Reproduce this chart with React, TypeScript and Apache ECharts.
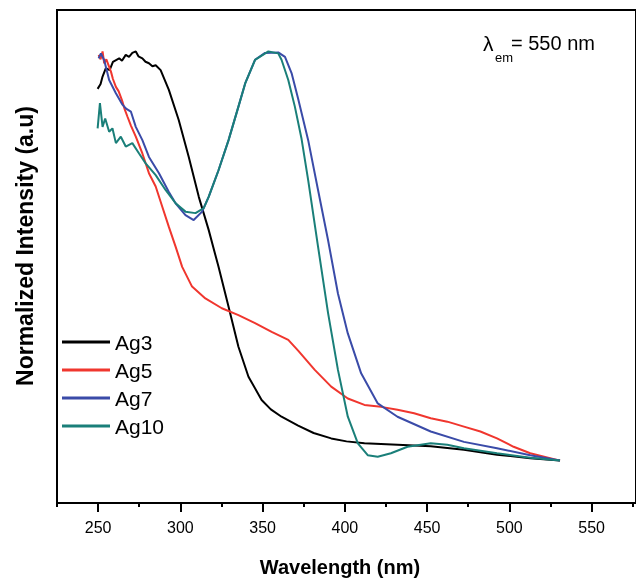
import React, { useEffect, useRef } from "react";
import * as echarts from "echarts";

const seriesNames = ["Ag3", "Ag5", "Ag7", "Ag10"];
const seriesColors = ["#000000", "#F0362E", "#3A4BA8", "#1A7F79"];

const majorTicks = [250, 300, 350, 400, 450, 500, 550];
const minorTicks = [225, 275, 325, 375, 425, 475, 525, 575];

const ag3: number[][] = [
  [249.7, 0.84], [251.5, 0.85], [252.7, 0.865], [254.7, 0.882], [257, 0.878], [259, 0.895],
  [262.8, 0.902], [264.5, 0.897], [266.8, 0.909], [268.8, 0.905], [270.8, 0.913], [272.9, 0.916],
  [274.5, 0.906], [276.9, 0.902], [278.8, 0.895], [280.9, 0.892], [283, 0.886], [285, 0.888],
  [288, 0.878], [293, 0.838], [299, 0.777], [305.1, 0.702], [311.2, 0.621], [317.2, 0.554],
  [323.2, 0.479], [329.3, 0.398], [335.3, 0.317], [341.4, 0.256], [349.4, 0.209], [355, 0.19],
  [361.5, 0.175], [371.6, 0.157], [381, 0.142], [391.7, 0.131], [401, 0.125], [411.9, 0.121],
  [432, 0.118], [452.2, 0.115], [472.4, 0.108], [492.5, 0.098], [512.7, 0.091], [530.8, 0.086],
];

const ag5: number[][] = [
  [250.3, 0.909], [251.5, 0.9], [252.7, 0.916], [253.7, 0.892], [255, 0.9], [257.8, 0.875],
  [259, 0.86], [260.8, 0.844], [262.5, 0.835], [264.8, 0.814], [266, 0.8], [267.8, 0.784],
  [270, 0.765], [272.9, 0.743], [276.9, 0.709], [280.9, 0.669], [285, 0.642], [289, 0.601],
  [293, 0.56], [297.1, 0.52], [301.1, 0.479], [307.1, 0.439], [315.2, 0.415], [325.2, 0.395],
  [335.3, 0.381], [345.4, 0.365], [355.5, 0.347], [365.6, 0.331], [371.6, 0.309], [381.7, 0.27],
  [391.7, 0.236], [401.8, 0.212], [411.9, 0.199], [422, 0.195], [432, 0.189], [442.1, 0.182],
  [452.2, 0.172], [462.3, 0.165], [472.4, 0.155], [482.4, 0.145], [492.5, 0.131], [502.6, 0.114],
  [512.7, 0.101], [530.8, 0.086],
];

const ag7: number[][] = [
  [250.3, 0.902], [251.7, 0.912], [253.7, 0.898], [256.7, 0.858], [260.8, 0.831], [264.8, 0.808],
  [267, 0.8], [269.9, 0.794], [272.9, 0.763], [276.9, 0.736], [280.9, 0.702], [287, 0.669],
  [293, 0.631], [297.1, 0.608], [303.1, 0.584], [308.1, 0.574], [313.2, 0.591], [317.2, 0.621],
  [323.2, 0.675], [329.3, 0.736], [335.3, 0.804], [339.4, 0.851], [345.4, 0.899], [351.5, 0.913],
  [359.5, 0.914], [363.6, 0.905], [367.6, 0.872], [371.6, 0.82], [377.7, 0.736], [383.7, 0.635],
  [389.8, 0.533], [395.8, 0.425], [401.8, 0.344], [409.9, 0.263], [420, 0.202], [432, 0.175],
  [452.2, 0.145], [472.4, 0.124], [492.5, 0.111], [512.7, 0.097], [530.8, 0.086],
];

const ag10: number[][] = [
  [249.7, 0.76], [251.1, 0.811], [252.7, 0.763], [254.3, 0.78], [256.7, 0.753], [258.7, 0.76],
  [260.8, 0.73], [263.8, 0.743], [266.8, 0.723], [270.8, 0.73], [274.9, 0.709], [278.9, 0.689],
  [285, 0.665], [291, 0.635], [297.1, 0.608], [303.1, 0.591], [309.2, 0.588], [314.2, 0.598],
  [317.2, 0.621], [323.2, 0.675], [329.3, 0.736], [335.3, 0.804], [339.4, 0.851], [345.4, 0.899],
  [353.5, 0.916], [359.5, 0.912], [361.5, 0.899], [365.6, 0.858], [369.6, 0.804], [373.6, 0.74],
  [377.7, 0.655], [383.7, 0.52], [389.8, 0.385], [395.8, 0.27], [401.8, 0.175], [407.9, 0.121],
  [413.9, 0.097], [420, 0.094], [428, 0.101], [438.1, 0.114], [452.2, 0.121], [462.3, 0.118],
  [472.4, 0.111], [492.5, 0.101], [512.7, 0.092], [530.8, 0.086],
];

const allData = [ag3, ag5, ag7, ag10];

export default function App() {
  const ref = useRef<HTMLDivElement>(null);
  useEffect(() => {
    document.body.style.margin = "0";
    const chart = echarts.init(ref.current!, null, { renderer: "svg" });
    const font = "'Liberation Sans', Arial, sans-serif";
    chart.setOption({
      animation: false,
      color: seriesColors,
      grid: {
        left: 57,
        top: 10,
        right: -4,
        bottom: 78,
        show: true,
        borderColor: "#000",
        borderWidth: 2,
      },
      legend: {
        orient: "vertical",
        left: 57,
        top: 326,
        icon: "rect",
        itemWidth: 48,
        itemHeight: 3,
        itemGap: 6,
        textStyle: { fontFamily: font, fontSize: 21, color: "#000", lineHeight: 22 },
        data: seriesNames,
      },
      xAxis: [
        {
          type: "value",
          min: 225,
          max: 577,
          splitLine: { show: false },
          axisLine: { show: true, lineStyle: { color: "#000", width: 2 } },
          axisTick: { show: true, length: 9, customValues: majorTicks, lineStyle: { color: "#000", width: 2 } },
          axisLabel: {
            customValues: majorTicks,
            margin: 16,
            fontFamily: font,
            fontSize: 16,
            color: "#000",
          },
        },
        {
          type: "value",
          min: 225,
          max: 577,
          position: "bottom",
          splitLine: { show: false },
          axisLine: { show: false },
          axisTick: { show: true, length: 4, customValues: minorTicks, lineStyle: { color: "#000", width: 2 } },
          axisLabel: { show: false },
        },
      ],
      yAxis: {
        type: "value",
        min: 0,
        max: 1,
        splitLine: { show: false },
        axisLine: { show: true, lineStyle: { color: "#000", width: 2 } },
        axisTick: { show: false },
        axisLabel: { show: false },
      },
      series: seriesNames.map((name, i) => ({
        name,
        type: "line",
        data: allData[i],
        showSymbol: false,
        symbol: "none",
        lineStyle: { width: 2, color: seriesColors[i] },
        itemStyle: { color: seriesColors[i] },
        smooth: false,
      })),
      graphic: [
        {
          type: "text",
          x: 340,
          y: 567,
          style: {
            text: "Wavelength (nm)",
            fontFamily: font,
            fontSize: 20,
            fontWeight: "bold",
            fill: "#000",
            align: "center",
            verticalAlign: "middle",
          },
        },
        {
          type: "text",
          x: 25,
          y: 246,
          rotation: Math.PI / 2,
          style: {
            text: "Normalized Intensity (a.u)",
            fontFamily: font,
            fontSize: 23,
            fontWeight: "bold",
            fill: "#000",
            align: "center",
            verticalAlign: "middle",
          },
        },
        {
          type: "text",
          x: 483,
          y: 43,
          style: { text: "λ", fontFamily: font, fontSize: 21, fill: "#000", verticalAlign: "middle" },
        },
        {
          type: "text",
          x: 495,
          y: 57,
          style: { text: "em", fontFamily: font, fontSize: 13, fill: "#000", verticalAlign: "middle" },
        },
        {
          type: "text",
          x: 511,
          y: 43,
          style: { text: "= 550 nm", fontFamily: font, fontSize: 20, fill: "#000", verticalAlign: "middle" },
        },
      ],
    });
    return () => chart.dispose();
  }, []);
  return <div ref={ref} style={{ position: "fixed", left: 0, top: 0, width: 636, height: 581 }} />;
}
